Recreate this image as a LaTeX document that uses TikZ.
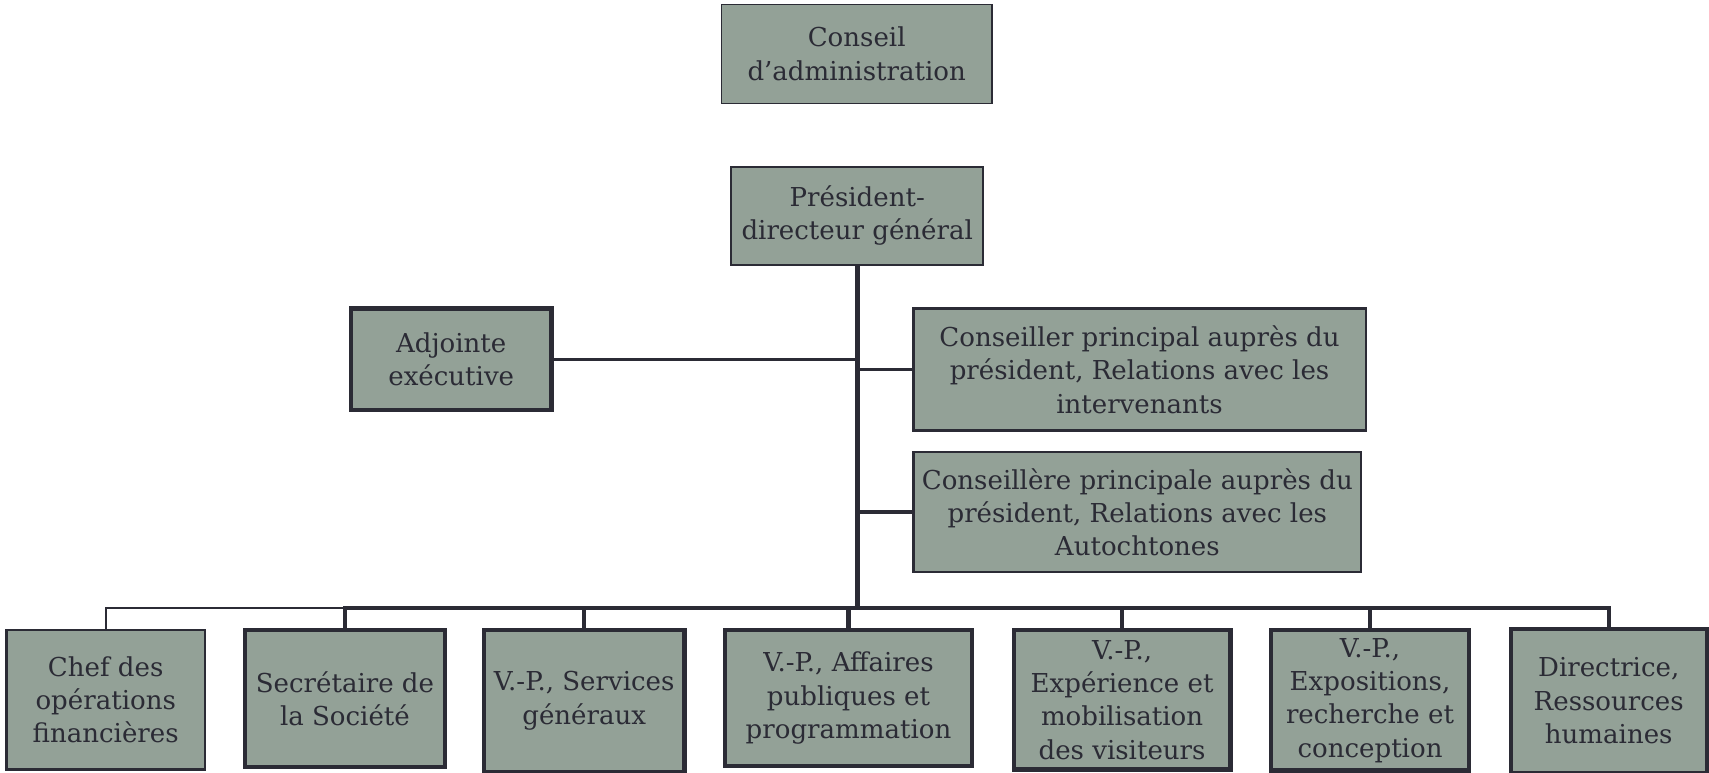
\documentclass[tikz,border=0pt]{standalone}
\usepackage{fontspec}
\setmainfont{DejaVu Serif}
\usetikzlibrary{positioning}
\definecolor{boxfill}{HTML}{93A197}
\definecolor{inkdark}{HTML}{2B2B35}

\begin{document}
\begin{tikzpicture}[x=0.02cm, y=-0.02cm,
    post/.style={draw=inkdark, fill=boxfill, text=inkdark, align=center,
        inner sep=0pt, font=\fontsize{13.6}{17.4}\selectfont},
    thinpost/.style={post, line width=0.8pt},
    midpost/.style={post, line width=1.2pt},
    boldpost/.style={post, line width=2.2pt},
    box/.style 2 args={minimum width=#1*0.02cm, minimum height=#2*0.02cm},
    link/.style={draw=inkdark, line width=2.2pt, line join=miter}]
    \useasboundingbox (0,0) rectangle (1568,709);

    % Board and president
    \node[thinpost, box={248}{91}] (conseil) at (786,49.5) {Conseil\\d’administration};
    \node[midpost, box={231}{90}] (pdg) at (786.5,198) {Président-\\directeur général};

    % Staff around the president
    \node[boldpost, box={184}{93}] (adjointe) at (414,329.5) {Adjointe\\exécutive};
    \node[midpost, box={415}{112}] (conseiller) at (1045.5,339)
        {Conseiller principal auprès du\\président, Relations avec les\\intervenants};
    \node[midpost, box={411}{110}] (conseillere) at (1043.5,470)
        {Conseillère principale auprès du\\président, Relations avec les\\Autochtones};

    % Bottom row
    \node[midpost, box={182}{128}] (chef) at (97,642) {Chef des\\opérations\\financières};
    \node[boldpost, box={183}{126}] (secretaire) at (316.5,641) {Secrétaire de\\la Société};
    \node[boldpost, box={184}{130}] (services) at (536,643) {V.-P., Services\\généraux};
    \node[boldpost, box={227}{125}] (affaires) at (778.5,640.5)
        {V.-P., Affaires\\publiques et\\programmation};
    \node[boldpost, box={199}{128}] (experience) at (1029.5,642)
        {V.-P.,\\Expérience et\\mobilisation\\des visiteurs};
    \node[boldpost, box={182}{129}] (expositions) at (1257,642.5)
        {V.-P.,\\Expositions,\\recherche et\\conception};
    \node[boldpost, box={180}{132}] (directrice) at (1476,643)
        {Directrice,\\Ressources\\humaines};

    % Trunk
    \coordinate (bus) at (787,558);
    \draw[link, line width=2.5pt] (pdg.south) -- (pdg.south |- bus);
    \draw[link, line width=1.7pt] (adjointe.east) -- (adjointe.east -| pdg.south);
    \draw[link, line width=2pt] (conseiller.west -| pdg.south) -- (conseiller.west);
    \draw[link, line width=2pt] (conseillere.west -| pdg.south) -- (conseillere.west);

    % Bus to the bottom row
    \draw[link] (secretaire.north) -- (secretaire.north |- bus)
        -- (directrice.north |- bus) -- (directrice.north);
    \foreach \n in {services, affaires, experience, expositions}
        \draw[link] (\n.north |- bus) -- (\n.north);
    \draw[link, line width=1pt] (chef.north) -- (chef.north |- bus)
        -- (secretaire.north |- bus);
\end{tikzpicture}
\end{document}
